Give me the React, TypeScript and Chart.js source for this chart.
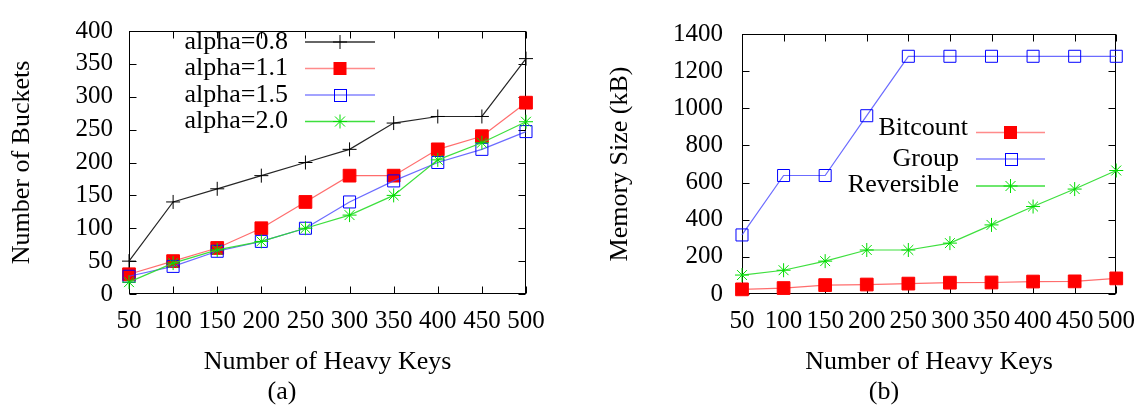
import { useEffect, useRef } from 'react';
import { Chart, registerables } from 'chart.js';

Chart.register(...registerables);

// ---------- data ----------
const heavyKeys = [50, 100, 150, 200, 250, 300, 350, 400, 450, 500];

const alpha08 = [50, 140, 160, 180, 200, 220, 260, 270, 270, 358];
const alpha11 = [30, 50, 70, 100, 140, 180, 180, 220, 240, 291];
const alpha15 = [27, 42, 65, 80, 100, 140, 172, 200, 220, 247];
const alpha20 = [18, 47, 67, 80, 100, 120, 150, 204, 230, 262];

const bitcount = [25, 32, 48, 51, 56, 61, 62, 67, 68, 84];
const group = [318, 638, 638, 960, 1280, 1280, 1280, 1280, 1280, 1280];
const reversible = [102, 128, 177, 237, 237, 274, 372, 471, 565, 665];

const leftLabels = ['alpha=0.8', 'alpha=1.1', 'alpha=1.5', 'alpha=2.0'];
const rightLabels = ['Bitcount', 'Group', 'Reversible'];

const FONT = '"Liberation Serif", "DejaVu Serif", serif';

type Marker = 'cross' | 'rectFill' | 'rectOpen' | 'star';

const pts = (ys: number[]) => heavyKeys.map((x, i) => ({ x, y: ys[i] }));

function drawMarker(ctx: CanvasRenderingContext2D, m: Marker, x: number, y: number, color: string) {
  ctx.save();
  ctx.strokeStyle = color;
  ctx.fillStyle = color;
  ctx.lineWidth = 1;
  if (m === 'cross') {
    ctx.beginPath();
    ctx.moveTo(x - 7, y); ctx.lineTo(x + 7, y);
    ctx.moveTo(x, y - 7); ctx.lineTo(x, y + 7);
    ctx.stroke();
  } else if (m === 'rectFill') {
    ctx.fillRect(x - 6.5, y - 6.5, 13, 13);
  } else if (m === 'rectOpen') {
    ctx.strokeRect(Math.round(x - 6) + 0.5, Math.round(y - 6) + 0.5, 12, 12);
  } else {
    ctx.beginPath();
    ctx.moveTo(x - 7, y); ctx.lineTo(x + 7, y);
    ctx.moveTo(x, y - 7); ctx.lineTo(x, y + 7);
    ctx.moveTo(x - 5, y - 5); ctx.lineTo(x + 5, y + 5);
    ctx.moveTo(x - 5, y + 5); ctx.lineTo(x + 5, y - 5);
    ctx.stroke();
  }
  ctx.restore();
}

const framePlugin = {
  id: 'gpFrame',
  beforeDatasetsDraw(chart: any) {
    const { ctx, chartArea: a, scales } = chart;
    const tl = 7;
    ctx.save();
    ctx.strokeStyle = '#000';
    ctx.lineWidth = 1;
    const L = Math.round(a.left) + 0.5, R = Math.round(a.right) - 0.5;
    const T = Math.round(a.top) + 0.5, B = Math.round(a.bottom) - 0.5;
    ctx.beginPath();
    scales.x.ticks.forEach((t: any) => {
      const px = Math.round(scales.x.getPixelForValue(t.value)) + 0.5;
      ctx.moveTo(px, B); ctx.lineTo(px, B - tl);
      ctx.moveTo(px, T); ctx.lineTo(px, T + tl);
    });
    scales.y.ticks.forEach((t: any) => {
      const py = Math.round(scales.y.getPixelForValue(t.value)) + 0.5;
      ctx.moveTo(L, py); ctx.lineTo(L + tl, py);
      ctx.moveTo(R, py); ctx.lineTo(R - tl, py);
    });
    ctx.stroke();
    ctx.strokeRect(L, T, R - L, B - T);
    ctx.restore();
  },
};

const legendPlugin = {
  id: 'gpLegend',
  afterDraw(chart: any, _args: any, opts: any) {
    const { ctx } = chart;
    ctx.save();
    opts.items.forEach((it: any) => {
      ctx.font = `${opts.fontSize}px ${FONT}`;
      ctx.fillStyle = '#000';
      ctx.textAlign = 'right';
      ctx.textBaseline = 'middle';
      ctx.fillText(it.label, it.textRight, it.textY);
      ctx.strokeStyle = it.lineColor;
      ctx.lineWidth = 1.5;
      ctx.beginPath();
      ctx.moveTo(opts.x1, it.lineY);
      ctx.lineTo(opts.x2, it.lineY);
      ctx.stroke();
      drawMarker(ctx, it.marker, (opts.x1 + opts.x2) / 2, it.lineY, it.markerColor);
    });
    ctx.restore();
  },
};

function makeDataset(label: string, ys: number[], marker: Marker, lineColor: string, markerColor: string, order: number) {
  const base: any = {
    label,
    data: pts(ys),
    borderColor: lineColor,
    borderWidth: 1.2,
    pointBorderColor: markerColor,
    pointBorderWidth: 1,
    pointHoverRadius: 0,
    clip: false,
    order,
    tension: 0,
  };
  if (marker === 'cross') {
    base.pointStyle = 'cross'; base.pointRadius = 7; base.pointBackgroundColor = markerColor;
  } else if (marker === 'rectFill') {
    base.pointStyle = 'rect'; base.pointRadius = 9; base.pointBackgroundColor = markerColor;
  } else if (marker === 'rectOpen') {
    base.pointStyle = 'rect'; base.pointRadius = 8.5; base.pointBackgroundColor = 'rgba(0,0,0,0)';
  } else {
    base.pointStyle = 'star'; base.pointRadius = 7; base.pointBackgroundColor = markerColor;
  }
  return base;
}

function makeOptions(p: {
  yMax: number; yStep: number; yTitle: string; yWidth: number; yTitlePad: number; yTickPad: number;
  padRight: number; legend: any;
}) {
  return {
    responsive: false,
    animation: false as const,
    events: [],
    layout: { padding: { left: 0, right: p.padRight, top: 22, bottom: 0 } },
    plugins: {
      legend: { display: false },
      tooltip: { enabled: false },
      gpLegend: p.legend,
    },
    scales: {
      x: {
        type: 'linear' as const,
        min: 50,
        max: 500,
        grid: { display: false, drawTicks: false, tickLength: 0 },
        border: { display: false },
        ticks: {
          stepSize: 50,
          padding: 12,
          color: '#000',
          font: { family: FONT, size: 25 },
          maxRotation: 0,
          autoSkip: false,
          callback: (v: any) => String(v),
        },
        title: {
          display: true,
          text: 'Number of Heavy Keys',
          color: '#000',
          font: { family: FONT, size: 26 },
          padding: { top: 0, bottom: 29 },
        },
        afterFit: (s: any) => { s.height = 113; },
      },
      y: {
        min: 0,
        max: p.yMax,
        grid: { display: false, drawTicks: false, tickLength: 0 },
        border: { display: false },
        ticks: {
          stepSize: p.yStep,
          padding: p.yTickPad,
          color: '#000',
          font: { family: FONT, size: 25 },
          autoSkip: false,
          callback: (v: any) => String(v),
        },
        title: {
          display: true,
          text: p.yTitle,
          color: '#000',
          font: { family: FONT, size: 26 },
          padding: { top: p.yTitlePad, bottom: 0 },
        },
        afterFit: (s: any) => { s.width = p.yWidth; },
      },
    },
  };
}

function LeftChart() {
  const ref = useRef<HTMLCanvasElement>(null);
  useEffect(() => {
    if (!ref.current) return;
    const chart = new Chart(ref.current, {
      type: 'line',
      data: {
        datasets: [
          makeDataset(leftLabels[0], alpha08, 'cross', '#262626', '#000000', 4),
          makeDataset(leftLabels[1], alpha11, 'rectFill', 'rgba(255,60,60,0.75)', '#ff0000', 3),
          makeDataset(leftLabels[2], alpha15, 'rectOpen', 'rgba(70,70,255,0.8)', '#0000ff', 2),
          makeDataset(leftLabels[3], alpha20, 'star', 'rgba(40,220,40,0.9)', '#00dd00', 1),
        ],
      },
      options: makeOptions({
        yMax: 400, yStep: 50, yTitle: 'Number of Buckets', yWidth: 129, yTitlePad: 7, yTickPad: 16,
        padRight: 49,
        legend: {
          fontSize: 26, x1: 305, x2: 375,
          items: [
            { label: leftLabels[0], textRight: 288, textY: 42, lineY: 42, marker: 'cross', lineColor: '#333', markerColor: '#000' },
            { label: leftLabels[1], textRight: 288, textY: 68.5, lineY: 68.5, marker: 'rectFill', lineColor: 'rgba(255,90,90,0.7)', markerColor: '#ff0000' },
            { label: leftLabels[2], textRight: 288, textY: 95, lineY: 95, marker: 'rectOpen', lineColor: 'rgba(80,80,255,0.7)', markerColor: '#0000ff' },
            { label: leftLabels[3], textRight: 288, textY: 121.5, lineY: 121.5, marker: 'star', lineColor: 'rgba(40,220,40,0.9)', markerColor: '#00dd00' },
          ],
        },
      }) as any,
      plugins: [framePlugin, legendPlugin],
    });
    return () => chart.destroy();
  }, []);
  return <canvas ref={ref} width={575} height={407} style={{ position: 'absolute', left: 0, top: 0, width: 575, height: 407 }} />;
}

function RightChart() {
  const ref = useRef<HTMLCanvasElement>(null);
  useEffect(() => {
    if (!ref.current) return;
    const chart = new Chart(ref.current, {
      type: 'line',
      data: {
        datasets: [
          makeDataset(rightLabels[0], bitcount, 'rectFill', 'rgba(255,60,60,0.75)', '#ff0000', 3),
          makeDataset(rightLabels[1], group, 'rectOpen', 'rgba(70,70,255,0.8)', '#0000ff', 2),
          makeDataset(rightLabels[2], reversible, 'star', 'rgba(40,220,40,0.9)', '#00dd00', 1),
        ],
      },
      options: makeOptions({
        yMax: 1400, yStep: 200, yTitle: 'Memory Size (kB)', yWidth: 167, yTitlePad: 30, yTickPad: 19,
        padRight: 25,
        legend: {
          fontSize: 26, x1: 976 - 575, x2: 1045 - 575,
          items: [
            { label: rightLabels[0], textRight: 968 - 575, textY: 128, lineY: 132.5, marker: 'rectFill', lineColor: 'rgba(255,90,90,0.7)', markerColor: '#ff0000' },
            { label: rightLabels[1], textRight: 959 - 575, textY: 159, lineY: 159, marker: 'rectOpen', lineColor: 'rgba(80,80,255,0.7)', markerColor: '#0000ff' },
            { label: rightLabels[2], textRight: 959 - 575, textY: 185, lineY: 186, marker: 'star', lineColor: 'rgba(40,220,40,0.9)', markerColor: '#00dd00' },
          ],
        },
      }) as any,
      plugins: [framePlugin, legendPlugin],
    });
    return () => chart.destroy();
  }, []);
  return <canvas ref={ref} width={572} height={407} style={{ position: 'absolute', left: 575, top: 0, width: 572, height: 407 }} />;
}

const capStyle = (left: number): React.CSSProperties => ({
  position: 'absolute',
  left: left - 30,
  width: 60,
  top: 377,
  textAlign: 'center',
  fontFamily: FONT,
  fontSize: 26,
  lineHeight: '28px',
  color: '#000',
});

export default function App() {
  return (
    <div style={{ position: 'absolute', left: 0, top: 0, width: 1147, height: 407, background: '#fff', overflow: 'hidden' }}>
      <LeftChart />
      <RightChart />
      <div style={capStyle(282)}>(a)</div>
      <div style={capStyle(884)}>(b)</div>
    </div>
  );
}
